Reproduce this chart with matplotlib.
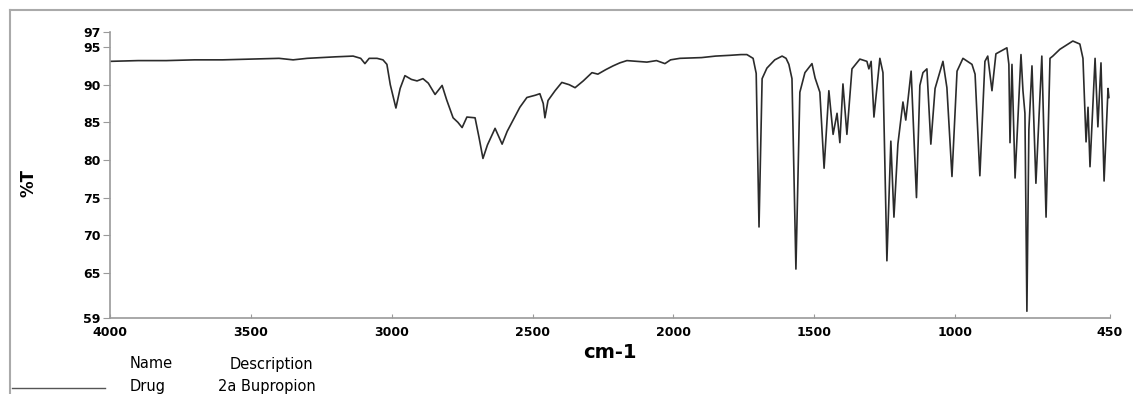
import numpy as np
import matplotlib.pyplot as plt
from matplotlib.lines import Line2D

# IR spectrum
wavenumber = [4000, 3900, 3800, 3700, 3600, 3500, 3400, 3350, 3300, 3200, 3137, 3110,
              3095, 3080, 3052, 3031, 3017, 3005, 2985, 2970, 2953, 2930, 2910, 2889,
              2870, 2846, 2821, 2805, 2782, 2765, 2750, 2733, 2704, 2690, 2676, 2660,
              2633, 2608, 2590, 2569, 2545, 2520, 2490, 2474, 2462, 2456, 2445, 2420,
              2396, 2370, 2349, 2320, 2289, 2268, 2240, 2214, 2190, 2165, 2130, 2094,
              2060, 2030, 2010, 1977, 1900, 1850, 1800, 1760, 1739, 1717, 1706, 1696,
              1685, 1668, 1640, 1614, 1600, 1590, 1579, 1565, 1551, 1533, 1508, 1497,
              1480, 1465, 1448, 1433, 1419, 1409, 1398, 1384, 1366, 1338, 1313, 1306,
              1298, 1288, 1267, 1256, 1242, 1228, 1217, 1203, 1185, 1175, 1156, 1137,
              1125, 1114, 1100, 1086, 1071, 1043, 1029, 1011, 993, 972, 940, 929,
              912, 894, 884, 869, 855, 816, 809, 805, 798, 787, 766, 759,
              752, 745, 738, 727, 713, 692, 677, 663, 653, 628, 582, 557,
              546, 535, 528, 521, 503, 493, 482, 471, 457, 454]
transmittance = [93.1, 93.2, 93.2, 93.3, 93.3, 93.4, 93.5, 93.3, 93.5, 93.7, 93.8, 93.5,
                 92.8, 93.5, 93.5, 93.3, 92.7, 90.0, 86.9, 89.5, 91.2, 90.7, 90.5, 90.8,
                 90.2, 88.7, 89.9, 88.0, 85.6, 85.0, 84.3, 85.7, 85.6, 83.0, 80.2, 82.0,
                 84.2, 82.1, 83.8, 85.3, 87.0, 88.3, 88.6, 88.8, 87.5, 85.6, 87.9, 89.2,
                 90.3, 90.0, 89.6, 90.5, 91.6, 91.4, 92.0, 92.5, 92.9, 93.2, 93.1, 93.0,
                 93.2, 92.8, 93.3, 93.5, 93.6, 93.8, 93.9, 94.0, 94.0, 93.5, 91.5, 71.1,
                 90.8, 92.2, 93.3, 93.8, 93.5, 92.7, 90.8, 65.5, 89.0, 91.6, 92.8, 90.9,
                 89.0, 78.9, 89.2, 83.4, 86.2, 82.3, 90.1, 83.4, 92.1, 93.4, 93.1, 92.1,
                 93.1, 85.7, 93.5, 91.6, 66.6, 82.5, 72.4, 82.1, 87.7, 85.3, 91.8, 75.0,
                 89.9, 91.6, 92.1, 82.1, 89.5, 93.1, 89.6, 77.8, 91.8, 93.5, 92.7, 91.4,
                 77.9, 93.1, 93.8, 89.2, 94.1, 94.9, 92.7, 82.3, 92.7, 77.6, 94.0, 89.2,
                 86.2, 59.9, 84.0, 92.5, 76.9, 93.8, 72.4, 93.5, 93.8, 94.7, 95.8, 95.4,
                 93.5, 82.4, 87.0, 79.1, 93.5, 84.4, 92.9, 77.2, 89.5, 88.3]

x_ticks = [4000, 3500, 3000, 2500, 2000, 1500, 1000, 450]
y_ticks = [59, 65, 70, 75, 80, 85, 90, 95, 97]

gray = '#9a9a9a'
font = 'DejaVu Sans'

fig = plt.figure(figsize=(11.33, 3.94), dpi=100)
ax = fig.add_axes([110 / 1133, 1 - 318 / 394, 1000 / 1133, 286 / 394])

ax.plot(wavenumber, transmittance, color='#2b2b2b', lw=1.2)
ax.set_xlim(4000, 450)
ax.set_ylim(59, 97)
ax.set_xticks(x_ticks)
ax.set_yticks(y_ticks)
ax.set_xticklabels([str(v) for v in x_ticks], family=font, weight='bold', fontsize=9)
ax.set_yticklabels([str(v) for v in y_ticks], family=font, weight='bold', fontsize=9)
ax.tick_params(axis='x', direction='in', length=3, pad=6, color=gray)
ax.tick_params(axis='y', direction='out', length=5, pad=2, color=gray)
for s in ['top', 'right']:
    ax.spines[s].set_visible(False)
for s in ['left', 'bottom']:
    ax.spines[s].set_color(gray)
    ax.spines[s].set_linewidth(1.2)

fig.text(610 / 1133, 1 - 352 / 394, 'cm-1', ha='center', va='center',
         family=font, weight='bold', fontsize=14)
fig.text(28 / 1133, 1 - 183 / 394, '%T', ha='center', va='center', rotation=90,
         family=font, weight='bold', fontsize=12)

# legend block below the plot
fig.text(130 / 1133, 1 - 364 / 394, 'Name', va='center', family=font, fontsize=10.5)
fig.text(230 / 1133, 1 - 364 / 394, 'Description', va='center', family=font, fontsize=10.5)
fig.text(130 / 1133, 1 - 386 / 394, 'Drug', va='center', family=font, fontsize=10.5)
fig.text(218 / 1133, 1 - 386 / 394, '2a Bupropion', va='center', family=font, fontsize=10.5)
fig.add_artist(Line2D([12 / 1133, 105 / 1133], [1 - 388 / 394] * 2, color='#555555', lw=1))

# outer frame (top and left edges)
fig.add_artist(Line2D([10 / 1133, 1], [1 - 10 / 394] * 2, color='#aaaaaa', lw=1.5))
fig.add_artist(Line2D([10 / 1133] * 2, [0, 1 - 10 / 394], color='#aaaaaa', lw=1.5))

fig.savefig('out.png', dpi=100)
